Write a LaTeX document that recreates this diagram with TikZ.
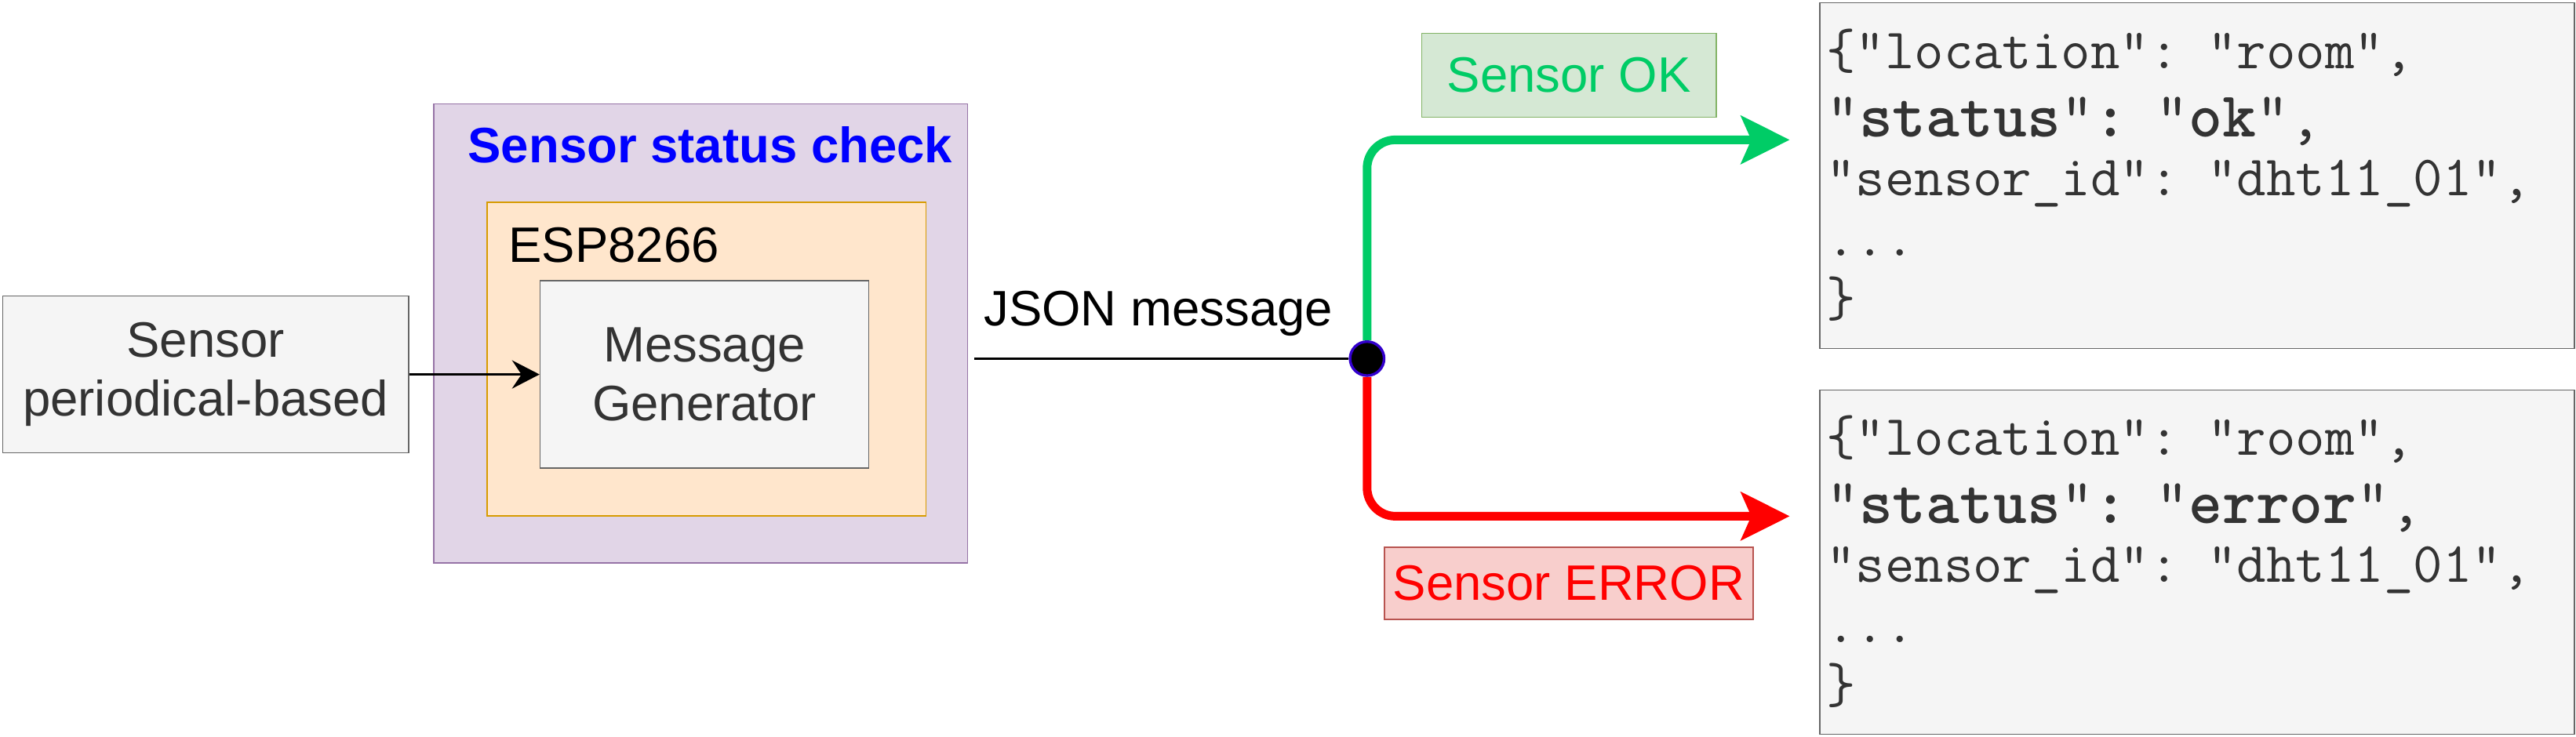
\documentclass[tikz,border=0pt]{standalone}
\usepackage{fontspec}
\setmainfont{Liberation Sans}
\usepackage{xcolor}
\usepackage{tikz}
\usetikzlibrary{positioning, arrows.meta}
\definecolor{grayfill}{HTML}{F5F5F5}
\definecolor{graydraw}{HTML}{666666}
\definecolor{graytext}{HTML}{333333}
\definecolor{checkfill}{HTML}{E1D5E7}
\definecolor{checkdraw}{HTML}{9673A6}
\definecolor{espfill}{HTML}{FFE6CC}
\definecolor{espdraw}{HTML}{D79B00}
\definecolor{okgreen}{HTML}{00CC66}
\definecolor{okfill}{HTML}{D5E8D4}
\definecolor{okdraw}{HTML}{82B366}
\definecolor{errred}{HTML}{FF0000}
\definecolor{errfill}{HTML}{F8CECC}
\definecolor{errdraw}{HTML}{B85450}
\definecolor{dotdraw}{HTML}{3300CC}
\definecolor{headblue}{HTML}{0000FF}
\newcommand{\jsonkey}[1]{{\fontsize{20.4pt}{19.25pt}\selectfont #1}}
\tikzset{line width=1pt, every node/.style={font=\fontsize{15.875pt}{18.65pt}\selectfont},
	graybox/.style={draw=graydraw, fill=grayfill, text=graytext, align=center, inner sep=2pt},
	checkbox/.style={draw=checkdraw, fill=checkfill, minimum width=170.1pt, minimum height=146.4pt},
	espbox/.style={draw=espdraw, fill=espfill, minimum width=139.9pt, minimum height=100.1pt},
	headtext/.style={text=headblue, font=\fontsize{15.875pt}{18.65pt}\selectfont\bfseries, inner sep=0pt},
	esptext/.style={inner sep=0pt},
	junction/.style={circle, fill=black, draw=dotdraw, line width=0.85pt, minimum size=10.85pt, inner sep=0pt},
	okbox/.style={draw=okdraw, fill=okfill, text=okgreen, minimum width=93.9pt, minimum height=26.8pt, inner sep=2pt},
	errbox/.style={draw=errdraw, fill=errfill, text=errred, minimum width=117.5pt, minimum height=23pt, inner sep=2pt},
	jsonbox/.style={draw=graydraw, fill=grayfill, text=graytext, align=left, text width=236.5pt, inner xsep=2pt,
		minimum height=110.25pt, font=\ttfamily\fontsize{18.2pt}{19.25pt}\selectfont},
	flow/.style={-{Stealth[length=8.75pt, width=9pt, inset=3pt]}, line width=0.85pt},
	okline/.style={draw=okgreen, line width=2.75pt, rounded corners=9pt, -{Stealth[length=15.5pt, width=15.25pt, inset=3.25pt]}},
	errline/.style={draw=errred, line width=2.75pt, rounded corners=9pt, -{Stealth[length=15.5pt, width=15.25pt, inset=3.25pt]}}}

\begin{document}
\begin{tikzpicture}
	\useasboundingbox (0,0) rectangle (821pt,235pt);
	\node[graybox, minimum width=129.4pt, minimum height=50pt] (sensor) at (65.55pt,115.6pt) {Sensor\\periodical-based};
	\node[checkbox] (check) at (223.3pt,128.7pt) {};
	\node[headtext, anchor=base east] (checktitle) at ([xshift=-4.8pt, yshift=-19pt]check.north east) {Sensor status check};
	\node[espbox] (esp) at (225.2pt,120.5pt) {};
	\node[esptext, anchor=base west] (esptitle) at ([xshift=6.9pt, yshift=-19.4pt]esp.north west) {ESP8266};
	\node[graybox, minimum width=104.75pt, minimum height=59.8pt, right=41.5pt of sensor] (msg) {Message\\Generator};
	\node[junction] (split) at (435.7pt,120.65pt) {};
	\coordinate (okend) at (570.4pt,190.4pt);
	\coordinate (errend) at (570.4pt,70.4pt);
	\node[okbox] (oklabel) at (500.05pt,211pt) {Sensor OK};
	\node[errbox] (errlabel) at (500pt,49pt) {Sensor ERROR};
	\node[jsonbox] (okjson) at (700.25pt,179pt) {\rule{0pt}{16pt}\{"location": "room",\\[2.5pt]
		\jsonkey{"\textbf{status}"\textbf{:} "\textbf{ok}",}\\[-0.5pt]
		"sensor\_id": "dht11\_01",\\
		...\\
		\}\rule[-5pt]{0pt}{0pt}};
	\node[jsonbox, minimum height=109.75pt] (errjson) at (700.25pt,55.75pt) {\rule{0pt}{16pt}\{"location": "room",\\[2.5pt]
		\jsonkey{"\textbf{status}"\textbf{:} "\textbf{error}",}\\[-0.5pt]
		"sensor\_id": "dht11\_01",\\
		...\\
		\}\rule[-5pt]{0pt}{0pt}};
	\draw[flow] (sensor) -- (msg);
	\draw[line width=0.75pt, shorten <=2pt] (check.east |- split) -- node[anchor=base, yshift=10.5pt] {JSON message} (split.west);
	\draw[okline] (split.north) |- (okend);
	\draw[errline] (split.south) |- (errend);
\end{tikzpicture}
\end{document}
